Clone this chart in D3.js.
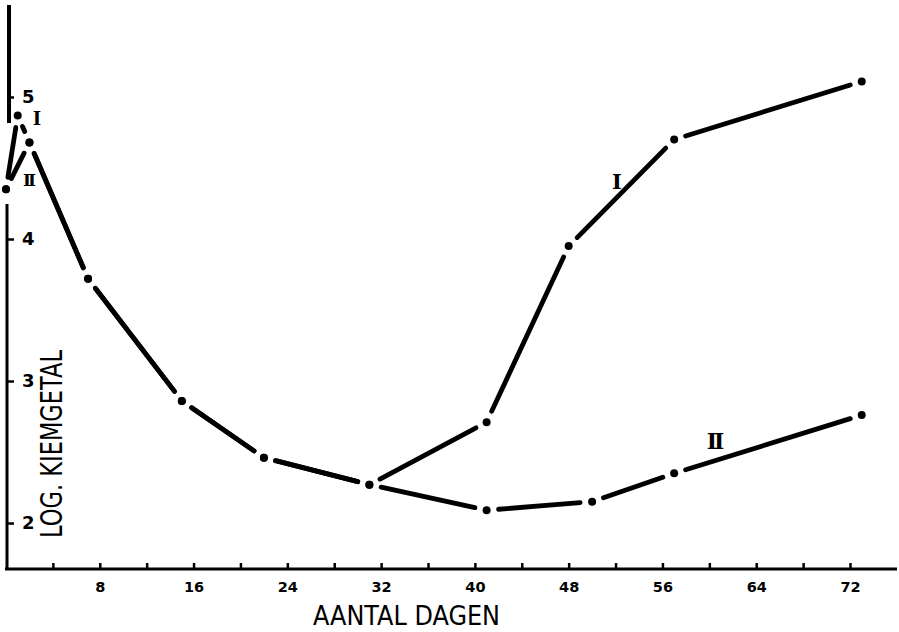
<!DOCTYPE html>
<html>
<head>
<meta charset="utf-8">
<script src="https://cdn.jsdelivr.net/npm/d3@7"></script>
<style>
  html, body { margin: 0; padding: 0; background: #fff; }
  svg { display: block; }
</style>
</head>
<body>
<svg id="chart" width="899" height="632"></svg>
<script>
// Days of storage and log germ counts for the two series
const daysI  = [0, 1, 2, 7, 15, 22, 31, 41, 48, 57, 73];
const logI   = [4.35, 4.87, 4.68, 3.72, 2.86, 2.46, 2.27, 2.71, 3.95, 4.70, 5.11];
const daysII = [0, 2, 7, 15, 22, 31, 41, 50, 57, 73];
const logII  = [4.35, 4.68, 3.72, 2.86, 2.46, 2.27, 2.09, 2.15, 2.35, 2.76];

const xTickValues = [4, 8, 12, 16, 20, 24, 28, 32, 36, 40, 44, 48, 52, 56, 60, 64, 68, 72];
const xTickLabels = [8, 16, 24, 32, 40, 48, 56, 64, 72];
const yTickValues = [2, 3, 4, 5];

const svg = d3.select("#chart");
const ink = "#000";

const x = d3.scaleLinear().domain([0, 72]).range([6, 850]);
const y = d3.scaleLinear().domain([2, 5]).range([523, 97]);

// X axis: ticks point upward, labels on every second tick
const xAxis = d3.axisBottom(x)
  .tickValues(xTickValues)
  .tickSize(-6)
  .tickPadding(13)
  .tickFormat(d => xTickLabels.includes(d) ? d : "");
const gx = svg.append("g").attr("transform", "translate(0,569)").call(xAxis);
gx.select(".domain").remove();
gx.selectAll(".tick line").attr("stroke", ink).attr("stroke-width", 2.5);
gx.selectAll(".tick text")
  .attr("fill", ink)
  .attr("font-family", "DejaVu Sans, sans-serif")
  .attr("font-weight", "bold")
  .attr("font-size", 14.5);
svg.append("line")
  .attr("x1", 5).attr("x2", 897)
  .attr("y1", 569).attr("y2", 569)
  .attr("stroke", ink).attr("stroke-width", 3);

// Y axis: short ticks to the right, line broken where the curves start
const yAxis = d3.axisRight(y)
  .tickValues(yTickValues)
  .tickSize(6)
  .tickPadding(8)
  .tickFormat(d3.format("d"));
const gy = svg.append("g").attr("transform", "translate(8,0)").call(yAxis);
gy.select(".domain").remove();
gy.selectAll(".tick line").attr("stroke", ink).attr("stroke-width", 2.5);
gy.selectAll(".tick text")
  .attr("fill", ink)
  .attr("font-family", "DejaVu Sans, sans-serif")
  .attr("font-weight", "bold")
  .attr("font-size", 18);

const yTop = y.invert(5), yBreakTop = y.invert(123), yBreakBottom = y.invert(204), yBottom = y.invert(569);
svg.append("line")
  .attr("x1", 9).attr("x2", 9)
  .attr("y1", y(yTop)).attr("y2", y(yBreakTop))
  .attr("stroke", ink).attr("stroke-width", 4);
svg.append("line")
  .attr("x1", 7).attr("x2", 7)
  .attr("y1", y(yBreakBottom)).attr("y2", y(yBottom))
  .attr("stroke", ink).attr("stroke-width", 3);

// Curves: each segment stops short of its dots
const gap = 12;
function segments(days, vals) {
  const segs = [];
  for (let i = 0; i < days.length - 1; i++) {
    const x1 = x(days[i]), y1 = y(vals[i]);
    const x2 = x(days[i + 1]), y2 = y(vals[i + 1]);
    const len = Math.hypot(x2 - x1, y2 - y1);
    const ux = (x2 - x1) / len, uy = (y2 - y1) / len;
    segs.push({ x1: x1 + ux * gap, y1: y1 + uy * gap, x2: x2 - ux * gap, y2: y2 - uy * gap });
  }
  return segs;
}

const curves = svg.append("g");
[[daysI, logI], [daysII, logII]].forEach(([d, v]) => {
  curves.selectAll(null)
    .data(segments(d, v))
    .join("line")
    .attr("x1", s => s.x1).attr("y1", s => s.y1)
    .attr("x2", s => s.x2).attr("y2", s => s.y2)
    .attr("stroke", ink)
    .attr("stroke-width", 4.8)
    .attr("stroke-linecap", "round");
});

const points = [];
daysI.forEach((d, i) => points.push([d, logI[i]]));
daysII.forEach((d, i) => points.push([d, logII[i]]));
curves.selectAll("circle")
  .data(points)
  .join("circle")
  .attr("cx", p => x(p[0]))
  .attr("cy", p => y(p[1]))
  .attr("r", 4)
  .attr("fill", ink);

// Series labels
const serif = "DejaVu Serif, serif";
function seriesLabel(text, px, py, size, spacing) {
  svg.append("text")
    .attr("x", px).attr("y", py)
    .attr("text-anchor", "middle")
    .attr("dominant-baseline", "central")
    .attr("font-family", serif)
    .attr("font-weight", "bold")
    .attr("font-size", size)
    .attr("letter-spacing", spacing)
    .attr("fill", ink)
    .text(text);
}
seriesLabel("I", 37, 118, 18, 0);
seriesLabel("II", 28, 180, 17, -3);
seriesLabel("I", 617, 181, 21, 0);
seriesLabel("II", 714, 441, 22, -3);

// Axis titles
svg.append("text")
  .attr("x", 313).attr("y", 625)
  .attr("font-family", "DejaVu Sans, sans-serif")
  .attr("font-size", 26)
  .attr("textLength", 187)
  .attr("lengthAdjust", "spacingAndGlyphs")
  .attr("fill", ink)
  .text("AANTAL DAGEN");

svg.append("text")
  .attr("transform", "translate(62,538) rotate(-90)")
  .attr("font-family", "DejaVu Sans, sans-serif")
  .attr("font-size", 30)
  .attr("textLength", 188)
  .attr("lengthAdjust", "spacingAndGlyphs")
  .attr("fill", ink)
  .text("LOG. KIEMGETAL");
</script>
</body>
</html>
